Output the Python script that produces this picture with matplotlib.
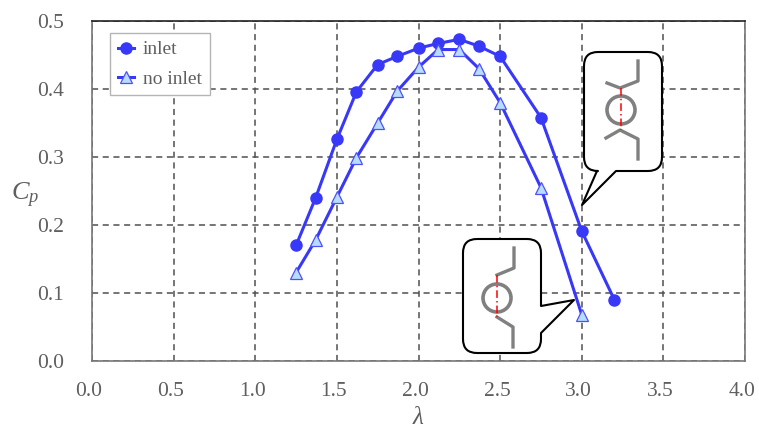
import matplotlib
matplotlib.use("Agg")
import matplotlib.pyplot as plt
from matplotlib.patches import PathPatch, Circle
from matplotlib.path import Path
from matplotlib.transforms import Affine2D, ScaledTranslation

plt.rcParams["font.family"] = ["Liberation Serif", "DejaVu Serif"]
plt.rcParams["mathtext.fontset"] = "custom"
plt.rcParams["mathtext.rm"] = "Liberation Serif"
plt.rcParams["mathtext.it"] = "Liberation Serif:italic"

tsr_inlet = [1.25, 1.37, 1.50, 1.62, 1.75, 1.87, 2.00, 2.12, 2.25, 2.37, 2.50, 2.75, 3.00, 3.20]
cp_inlet = [0.170, 0.240, 0.326, 0.396, 0.436, 0.448, 0.460, 0.467, 0.473, 0.463, 0.448, 0.358, 0.191, 0.090]
tsr_no_inlet = [1.25, 1.37, 1.50, 1.62, 1.75, 1.87, 2.00, 2.12, 2.25, 2.37, 2.50, 2.75, 3.00]
cp_no_inlet = [0.130, 0.178, 0.241, 0.299, 0.350, 0.397, 0.432, 0.458, 0.458, 0.430, 0.380, 0.255, 0.068]
xticks = [0.0, 0.5, 1.0, 1.5, 2.0, 2.5, 3.0, 3.5, 4.0]
yticks = [0.0, 0.1, 0.2, 0.3, 0.4, 0.5]

W, H = 759, 430
blue = "#3838f8"
text_col = "#5f5f5f"

fig = plt.figure(figsize=(W / 100, H / 100), dpi=100)
ax = fig.add_axes([92 / W, 1 - 361 / H, (745 - 92) / W, (361 - 21) / H])

ax.plot(tsr_inlet, cp_inlet, "-o", color=blue, lw=2.2, ms=8, label="inlet", zorder=3)
ax.plot(tsr_no_inlet, cp_no_inlet, "-^", color=blue, lw=2.2, ms=8, mfc="#b8dcff",
        mec="#5050f8", mew=0.9, label="no inlet", zorder=3)

ax.set_xlim(0, 4)
ax.set_ylim(0, 0.5)
ax.set_xticks(xticks)
ax.set_yticks(yticks)
ax.set_xticklabels([f"{v:.1f}" for v in xticks])
ax.set_yticklabels([f"{v:.1f}" for v in yticks])
ax.tick_params(axis="x", length=0, labelsize=15.5, labelcolor=text_col, pad=15)
ax.tick_params(axis="y", length=0, labelsize=15.5, labelcolor=text_col, pad=20)
# x tick labels sit slightly left of their gridlines in the original
shift = ScaledTranslation(-3 / 100, 0, fig.dpi_scale_trans)
for lab in ax.get_xticklabels():
    lab.set_transform(lab.get_transform() + shift)
ax.grid(True, color="#505050", lw=1.1, ls=(0, (4, 3)))
ax.set_axisbelow(True)

fig.text(418 / W, 1 - 418 / H, r"$\lambda$", fontsize=18, color=text_col, ha="center", va="center")
fig.text(25 / W, 1 - 195 / H, r"$C_p$", fontsize=19, color=text_col, ha="center", va="center")

for side in ["left", "bottom", "right"]:
    ax.spines[side].set_color("#777777")
ax.spines["top"].set_color("#222222")
for s in ax.spines.values():
    s.set_linewidth(1.2)

leg = ax.legend(loc="upper left", bbox_to_anchor=((110 - 92) / 653, 1 - (33 - 21) / 340),
                borderaxespad=0, fontsize=14, labelcolor=text_col, fancybox=False, framealpha=1,
                edgecolor="#b5b5b5", labelspacing=0.6, handlelength=0.85, handletextpad=0.45,
                borderpad=0.4)
leg.get_frame().set_linewidth(1.0)

# callouts are placed in image pixels, y pointing down
px = Affine2D().scale(1 / W, -1 / H).translate(0, 1) + fig.transFigure


def bubble(left, right, top, bottom, tail, r=14):
    verts = [(left + r, top), (right - r, top), (right, top), (right, top + r)]
    codes = [Path.MOVETO, Path.LINETO, Path.CURVE3, Path.CURVE3]
    if tail[0] == "right":
        verts += [(right, tail[1]), tail[2], (right, tail[3])]
        codes += [Path.LINETO] * 3
    verts += [(right, bottom - r), (right, bottom), (right - r, bottom)]
    codes += [Path.LINETO, Path.CURVE3, Path.CURVE3]
    if tail[0] == "bottom":
        verts += [(tail[3], bottom), tail[2], (tail[1], bottom)]
        codes += [Path.LINETO] * 3
    verts += [(left + r, bottom), (left, bottom), (left, bottom - r), (left, top + r), (left, top), (left + r, top)]
    codes += [Path.LINETO, Path.CURVE3, Path.CURVE3, Path.LINETO, Path.CURVE3, Path.CURVE3]
    fig.add_artist(PathPatch(Path(verts, codes), transform=px, fc="white", ec="black", lw=1.5, zorder=5,
                             joinstyle="round"))


def icon_line(xs, ys, color="#808080", lw=2.4, **kw):
    fig.add_artist(plt.Line2D(xs, ys, transform=px, color=color, lw=lw, zorder=6, **kw))


bubble(584, 662, 52, 171, ("bottom", 597, (582, 205), 616))
icon_line([638, 638, 620, 607], [61, 81, 88, 83])
icon_line([638, 638, 620, 606], [159, 139, 130, 138])
fig.add_artist(Circle((621, 110), 14, transform=px, fc="none", ec="#808080", lw=2.6, zorder=6))
icon_line([620.5, 620.5], [88, 130], color="#ff0000", lw=1.1, ls=(0, (5, 2, 1, 2)))

bubble(463, 541, 239, 353, ("right", 306, (574, 300), 333))
icon_line([514, 514, 497], [248, 268, 275])
icon_line([513, 513, 497], [347, 327, 317])
fig.add_artist(Circle((497, 298), 14, transform=px, fc="none", ec="#808080", lw=2.6, zorder=6))
icon_line([497, 497], [275, 317], color="#ff0000", lw=1.1, ls=(0, (5, 2, 1, 2)))

fig.savefig("out.png", dpi=100)
